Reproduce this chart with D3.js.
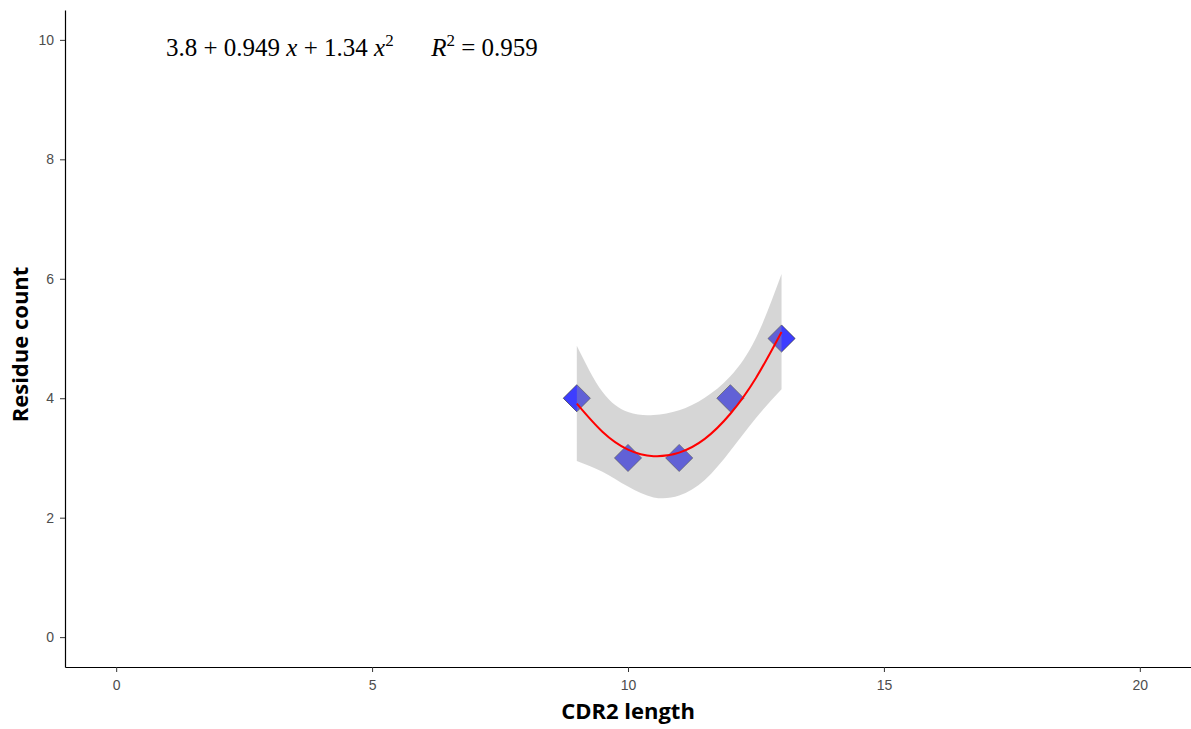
<!DOCTYPE html>
<html>
<head>
<meta charset="utf-8">
<script src="https://cdn.jsdelivr.net/npm/d3@7/dist/d3.min.js"></script>
<style>
    body { margin: 0; background: #fff; }
    .tick text { font-family: "Liberation Sans", Arial, sans-serif; font-size: 14px; fill: #4d4d4d; }
    .axis-title { font-family: "Open Sans", "Liberation Sans", sans-serif; font-weight: 700; font-size: 22px; fill: #000; }
    .eq { font-family: "Liberation Serif", "Times New Roman", serif; font-size: 25px; fill: #000; }
</style>
</head>
<body>
<div id="chart"></div>
<script>
// Residue count vs CDR2 length, quadratic fit

const cdrLength = [9, 10, 11, 12, 13];
const residueCount = [4, 3, 3, 4, 5];

// fitted curve + 95% band
const fitX = [9, 9.5, 10, 10.5, 11, 11.5, 12, 12.5, 13];
const fitY = [3.91, 3.44, 3.14, 3.03, 3.09, 3.32, 3.74, 4.34, 5.11];
const fitUpper = [4.88, 4.11, 3.77, 3.72, 3.80, 4.01, 4.37, 5.01, 6.08];
const fitLower = [2.95, 2.77, 2.52, 2.34, 2.37, 2.63, 3.12, 3.67, 4.15];

const xTicks = [0, 5, 10, 15, 20];
const yTicks = [0, 2, 4, 6, 8, 10];

const width = 1191, height = 729;
const margin = { top: 10, right: 0, bottom: 62, left: 65 };
const innerW = width - margin.left - margin.right;
const innerH = height - margin.top - margin.bottom;

const svg = d3.select("#chart").append("svg")
    .attr("width", width)
    .attr("height", height);

const root = svg.append("g")
    .attr("transform", `translate(${margin.left},${margin.top})`);

const x = d3.scaleLinear().domain([-1, 21]).range([0, innerW]);
const y = d3.scaleLinear().domain([-0.5, 10.5]).range([innerH, 0]);

const points = cdrLength.map((d, i) => ({ x: d, y: residueCount[i] }));
const fit = fitX.map((d, i) => ({ x: d, y: fitY[i], lo: fitLower[i], hi: fitUpper[i] }));

// points first, the ribbon goes over them (like ggplot)
const diamond = d3.symbol().type(d3.symbolDiamond2).size(470);
root.append("g").selectAll("path")
    .data(points)
    .join("path")
    .attr("transform", d => `translate(${x(d.x)},${y(d.y)})`)
    .attr("d", diamond)
    .attr("fill", "#0000ff")
    .attr("fill-opacity", 0.76)
    .attr("stroke", "#222")
    .attr("stroke-opacity", 0.6)
    .attr("stroke-width", 1);

root.append("path")
    .datum(fit)
    .attr("fill", "rgb(153,153,153)")
    .attr("fill-opacity", 0.4)
    .attr("d", d3.area()
        .curve(d3.curveNatural)
        .x(d => x(d.x))
        .y0(d => y(d.lo))
        .y1(d => y(d.hi)));

root.append("path")
    .datum(fit)
    .attr("fill", "none")
    .attr("stroke", "#ff0000")
    .attr("stroke-width", 2)
    .attr("d", d3.line()
        .curve(d3.curveNatural)
        .x(d => x(d.x))
        .y(d => y(d.y)));

// axes
const xAxis = root.append("g")
    .attr("transform", `translate(0,${innerH})`)
    .call(d3.axisBottom(x).tickValues(xTicks).tickSize(5).tickPadding(8).tickSizeOuter(0));
const yAxis = root.append("g")
    .call(d3.axisLeft(y).tickValues(yTicks).tickSize(5).tickPadding(6).tickSizeOuter(0));

[xAxis, yAxis].forEach(g => {
    g.select(".domain").attr("stroke", "#000").attr("stroke-width", 1.2);
    g.selectAll(".tick line").attr("stroke", "#333");
});

root.append("text")
    .attr("class", "axis-title")
    .attr("x", x(10))
    .attr("y", innerH + 52)
    .attr("text-anchor", "middle")
    .text("CDR2 length");

root.append("text")
    .attr("class", "axis-title")
    .attr("transform", `translate(${28 - margin.left},${y(4.9)}) rotate(-90)`)
    .attr("text-anchor", "middle")
    .text("Residue count");

// equation label
const eq = svg.append("text")
    .attr("class", "eq")
    .attr("x", 166)
    .attr("y", 56);
eq.append("tspan").text("3.8 + 0.949 ");
eq.append("tspan").attr("font-style", "italic").text("x");
eq.append("tspan").text(" + 1.34 ");
eq.append("tspan").attr("font-style", "italic").text("x");
eq.append("tspan").attr("dy", -10).attr("font-size", 17).text("2");
eq.append("tspan").attr("dy", 10).text("\u2003\u2002");
eq.append("tspan").attr("font-style", "italic").text("R");
eq.append("tspan").attr("dy", -10).attr("font-size", 17).text("2");
eq.append("tspan").attr("dy", 10).text(" = 0.959");
</script>
</body>
</html>
